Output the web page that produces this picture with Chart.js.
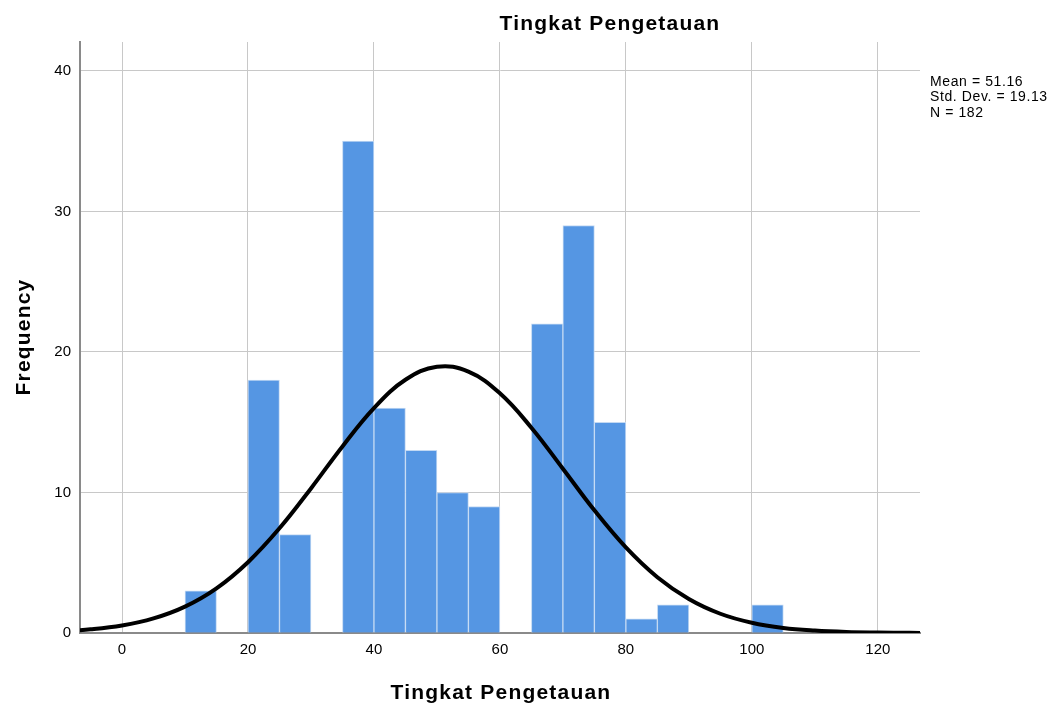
<!DOCTYPE html>
<html>
<head>
<meta charset="utf-8">
<script src="https://cdn.jsdelivr.net/npm/chart.js@4"></script>
<style>
html,body{margin:0;padding:0;background:#fff;}
#wrap{width:1062px;height:713px;position:relative;}
</style>
</head>
<body>
<div id="wrap"><canvas id="c" width="1062" height="713"></canvas></div>
<script>
// Histogram bins (bin centers, width 5) and frequencies
const binCenters = [12.5, 22.5, 27.5, 37.5, 42.5, 47.5, 52.5, 57.5, 67.5, 72.5, 77.5, 82.5, 87.5, 102.5];
const frequencies = [3, 18, 7, 35, 16, 13, 10, 9, 22, 29, 15, 1, 2, 2];
// Normal curve
const curveX = [-10, -5, 0, 5, 10, 15, 20, 25, 30, 35, 40, 45, 50, 55, 60, 65, 70, 75, 80, 85, 90, 95, 100, 105, 110, 115, 120, 125, 130];
const curveY = [0.12, 0.26, 0.53, 1.04, 1.88, 3.18, 5.04, 7.45, 10.29, 13.28, 16.01, 18.02, 18.95, 18.60, 17.06, 14.61, 11.69, 8.73, 6.09, 3.97, 2.42, 1.37, 0.73, 0.36, 0.17, 0.07, 0.03, 0.01, 0.004];
const xTicks = [0, 20, 40, 60, 80, 100, 120];
const yTicks = [0, 10, 20, 30, 40];
const statsLines = ["Mean = 51.16", "Std. Dev. = 19.13", "N = 182"];
const chartTitle = "Tingkat Pengetauan";
const xTitle = "Tingkat Pengetauan";
const yTitle = "Frequency";

const FONT = "'Liberation Sans', Arial, sans-serif";

const textPlugin = {
  id: 'texts',
  afterDraw(chart) {
    const ctx = chart.ctx;
    const a = chart.chartArea;
    ctx.save();
    ctx.fillStyle = '#000';
    ctx.textBaseline = 'middle';
    ctx.textAlign = 'center';
    ctx.font = "bold 21px " + FONT;
    ctx.letterSpacing = '1.2px';
    ctx.fillText(chartTitle, 610, 24);
    ctx.fillText(xTitle, (a.left + a.right) / 2 + 1, 693);
    ctx.save();
    ctx.translate(24, 337);
    ctx.rotate(-Math.PI / 2);
    ctx.fillText(yTitle, 0, 0);
    ctx.restore();
    ctx.textAlign = 'left';
    ctx.font = "14px " + FONT;
    ctx.letterSpacing = '0.6px';
    statsLines.forEach((s, i) => ctx.fillText(s, 930, 82 + i * 15.5));
    ctx.restore();
  }
};

new Chart(document.getElementById('c'), {
  type: 'bar',
  data: {
    datasets: [
      {
        type: 'line',
        data: curveX.map((x, i) => ({x: x, y: curveY[i]})),
        borderColor: '#000',
        borderWidth: 4,
        pointRadius: 0,
        tension: 0.4,
        fill: false,
        order: 0
      },
      {
        type: 'bar',
        data: binCenters.map((x, i) => ({x: x, y: frequencies[i]})),
        backgroundColor: '#5596e3',
        borderColor: '#c3d9f3',
        borderWidth: 1,
        barPercentage: 1,
        categoryPercentage: 1,
        order: 1
      }
    ]
  },
  options: {
    responsive: false,
    animation: false,
    layout: {padding: {left: 0, right: 142, top: 42, bottom: 0}},
    plugins: {legend: {display: false}, tooltip: {enabled: false}, title: {display: false}},
    scales: {
      x: {
        type: 'linear',
        min: -6.67,
        max: 126.7,
        offset: false,
        afterBuildTicks(s) { s.ticks = xTicks.map(v => ({value: v})); },
        afterFit(s) { s.height = 80; },
        grid: {color: '#c8c8c8', lineWidth: 1, drawTicks: false, offset: false},
        border: {color: '#8a8a8a', width: 2},
        ticks: {color: '#000', font: {size: 15, family: FONT}, padding: 8, maxRotation: 0}
      },
      y: {
        type: 'linear',
        min: 0,
        max: 42.06,
        afterBuildTicks(s) { s.ticks = yTicks.map(v => ({value: v})); },
        afterFit(s) { s.width = 80; },
        grid: {color: '#c8c8c8', lineWidth: 1, drawTicks: false},
        border: {color: '#8a8a8a', width: 2},
        ticks: {color: '#000', font: {size: 15, family: FONT}, padding: 9}
      }
    }
  },
  plugins: [textPlugin]
});
</script>
</body>
</html>
